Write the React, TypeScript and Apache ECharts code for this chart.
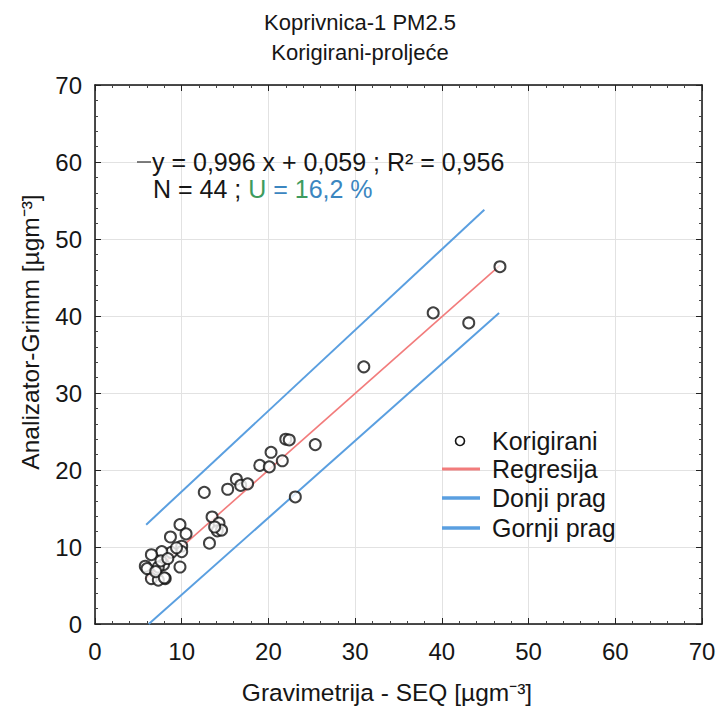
import React, { useEffect, useRef } from "react";
import * as echarts from "echarts";

// Korigirani measurements: x = Gravimetrija - SEQ, y = Analizator-Grimm
const gravimetrija = [
  46.7, 39.0, 43.1, 31.0, 22.0, 22.4, 25.4, 20.3, 21.6, 19.0, 20.1,
  23.1, 16.3, 15.3, 16.8, 17.6, 12.6, 13.5, 14.3, 14.1, 14.6, 13.8,
  13.2, 9.8, 10.5, 8.7, 10.0, 10.0, 8.8, 7.7, 6.5, 9.8, 7.9, 5.8,
  7.3, 8.1, 6.5, 7.3, 6.0, 7.6, 8.4, 9.4, 7.0, 8.0,
];
const grimm = [
  46.4, 40.4, 39.1, 33.4, 24.0, 23.9, 23.3, 22.3, 21.2, 20.6, 20.4,
  16.5, 18.8, 17.5, 18.0, 18.2, 17.1, 13.9, 13.1, 12.1, 12.2, 12.6,
  10.5, 12.9, 11.7, 11.3, 10.1, 9.4, 9.3, 9.4, 9.0, 7.4, 7.7, 7.5,
  7.4, 5.9, 5.9, 5.7, 7.2, 8.2, 8.5, 9.9, 6.8, 6.0,
];

// Line end points
const regresijaX = [5.8, 46.7];
const regresijaY = [5.84, 46.57];
const donjiX = [6.2, 46.6];
const donjiY = [0, 40.4];
const gornjiX = [5.9, 44.9];
const gornjiY = [12.9, 53.8];

const axisMin = 0;
const axisMax = 70;
const axisStep = 10;

const titleLines = ["Koprivnica-1 PM2.5", "Korigirani-proljeće"];
const xName = "Gravimetrija - SEQ [µgm⁻³]";
const yName = "Analizator-Grimm [µgm⁻³]";
const seriesNames = ["Korigirani", "Regresija", "Donji prag", "Gornji prag"];

const FONT = "'Liberation Sans', Arial, Helvetica, sans-serif";
const BLUE = "#5a9fe0";
const RED = "#f27c7c";
const INK = "#161616";

function pairs(xs: number[], ys: number[]) {
  return xs.map((x, i) => [x, ys[i]]);
}

function makeAxis(position: string, showLabels: boolean, isY: boolean) {
  return {
    type: "value",
    position,
    min: axisMin,
    max: axisMax,
    interval: axisStep,
    axisLine: { show: true, onZero: false, lineStyle: { color: "#111", width: 1.5 } },
    axisTick: { show: true, inside: true, length: 6, lineStyle: { color: "#222", width: 1 } },
    minorTick: { show: true, splitNumber: 5, length: 3, lineStyle: { color: "#444", width: 1 } },
    axisLabel: {
      show: showLabels,
      fontSize: 24,
      color: INK,
      fontFamily: FONT,
      margin: isY ? 13 : 15,
    },
    splitLine: { show: showLabels, lineStyle: { color: "#e2e2e2", width: 1 } },
    minorSplitLine: { show: false },
  };
}

function legendText(name: string, y: number) {
  return {
    type: "text",
    x: 492,
    y,
    z: 10,
    style: { text: name, fontSize: 25, fontFamily: FONT, fill: INK, align: "left", verticalAlign: "middle" },
  };
}

function legendLine(color: string, y: number, w: number) {
  return {
    type: "line",
    z: 10,
    shape: { x1: 442, y1: y, x2: 480, y2: y },
    style: { stroke: color, lineWidth: w },
  };
}

export default function App() {
  const ref = useRef<HTMLDivElement>(null);
  useEffect(() => {
    const chart = echarts.init(ref.current!, null, { renderer: "svg" });
    chart.setOption({
      animation: false,
      backgroundColor: "#fff",
      grid: { left: 95, top: 85, width: 607, height: 539, containLabel: false },
      xAxis: [makeAxis("bottom", true, false), makeAxis("top", false, false)],
      yAxis: [makeAxis("left", true, true), makeAxis("right", false, true)],
      series: [
        {
          name: seriesNames[0],
          type: "scatter",
          data: pairs(gravimetrija, grimm),
          symbol: "emptyCircle",
          symbolSize: 11,
          itemStyle: { color: "#111", borderColor: "#111", borderWidth: 1.7 },
          z: 5,
        },
        {
          name: seriesNames[1],
          type: "line",
          data: pairs(regresijaX, regresijaY),
          symbol: "none",
          lineStyle: { color: RED, width: 1.6 },
          z: 3,
        },
        {
          name: seriesNames[2],
          type: "line",
          data: pairs(donjiX, donjiY),
          symbol: "none",
          lineStyle: { color: BLUE, width: 2 },
          z: 3,
        },
        {
          name: seriesNames[3],
          type: "line",
          data: pairs(gornjiX, gornjiY),
          symbol: "none",
          lineStyle: { color: BLUE, width: 2 },
          z: 3,
        },
      ],
      graphic: [
        {
          type: "text",
          x: 360,
          y: 22,
          style: { text: titleLines[0], fontSize: 22, fontFamily: FONT, fill: INK, align: "center", verticalAlign: "middle" },
        },
        {
          type: "text",
          x: 360,
          y: 52,
          style: { text: titleLines[1], fontSize: 22, fontFamily: FONT, fill: INK, align: "center", verticalAlign: "middle" },
        },
        {
          type: "text",
          x: 387,
          y: 692,
          style: { text: xName, fontSize: 24.5, fontFamily: FONT, fill: INK, align: "center", verticalAlign: "middle" },
        },
        {
          type: "text",
          x: 30,
          y: 332,
          rotation: Math.PI / 2,
          style: { text: yName, fontSize: 24.5, fontFamily: FONT, fill: INK, align: "center", verticalAlign: "middle" },
        },
        // legend
        {
          type: "circle",
          z: 10,
          shape: { cx: 460, cy: 441, r: 4.5 },
          style: { fill: "#fff", stroke: "#111", lineWidth: 1.6 },
        },
        legendText(seriesNames[0], 441),
        legendLine(RED, 469, 3),
        legendText(seriesNames[1], 469),
        legendLine(BLUE, 498, 3.5),
        legendText(seriesNames[2], 498),
        legendLine(BLUE, 528, 3.5),
        legendText(seriesNames[3], 528),
        // annotation
        {
          type: "line",
          shape: { x1: 137, y1: 162, x2: 151, y2: 162 },
          style: { stroke: "#555", lineWidth: 1.5 },
          z: 10,
        },
        {
          type: "text",
          x: 152,
          y: 162,
          z: 10,
          style: {
            text: "y = 0,996 x + 0,059 ; R² = 0,956",
            fontSize: 25,
            fontFamily: FONT,
            fill: INK,
            align: "left",
            verticalAlign: "middle",
          },
        },
        {
          type: "text",
          x: 153,
          y: 189,
          z: 10,
          style: {
            text: "{k|N = 44 ; }{g|U}{b| = }{g|1}{b|6,2 %}",
            fontSize: 25,
            fontFamily: FONT,
            fill: INK,
            align: "left",
            verticalAlign: "middle",
            rich: {
              k: { fontSize: 25, fontFamily: FONT, fill: INK },
              g: { fontSize: 25, fontFamily: FONT, fill: "#3e9b5e" },
              b: { fontSize: 25, fontFamily: FONT, fill: "#3b86c0" },
            },
          },
        },
      ],
    });
    return () => chart.dispose();
  }, []);
  return (
    <div
      ref={ref}
      style={{ position: "absolute", left: 0, top: 0, width: 719, height: 710, background: "#fff" }}
    />
  );
}
